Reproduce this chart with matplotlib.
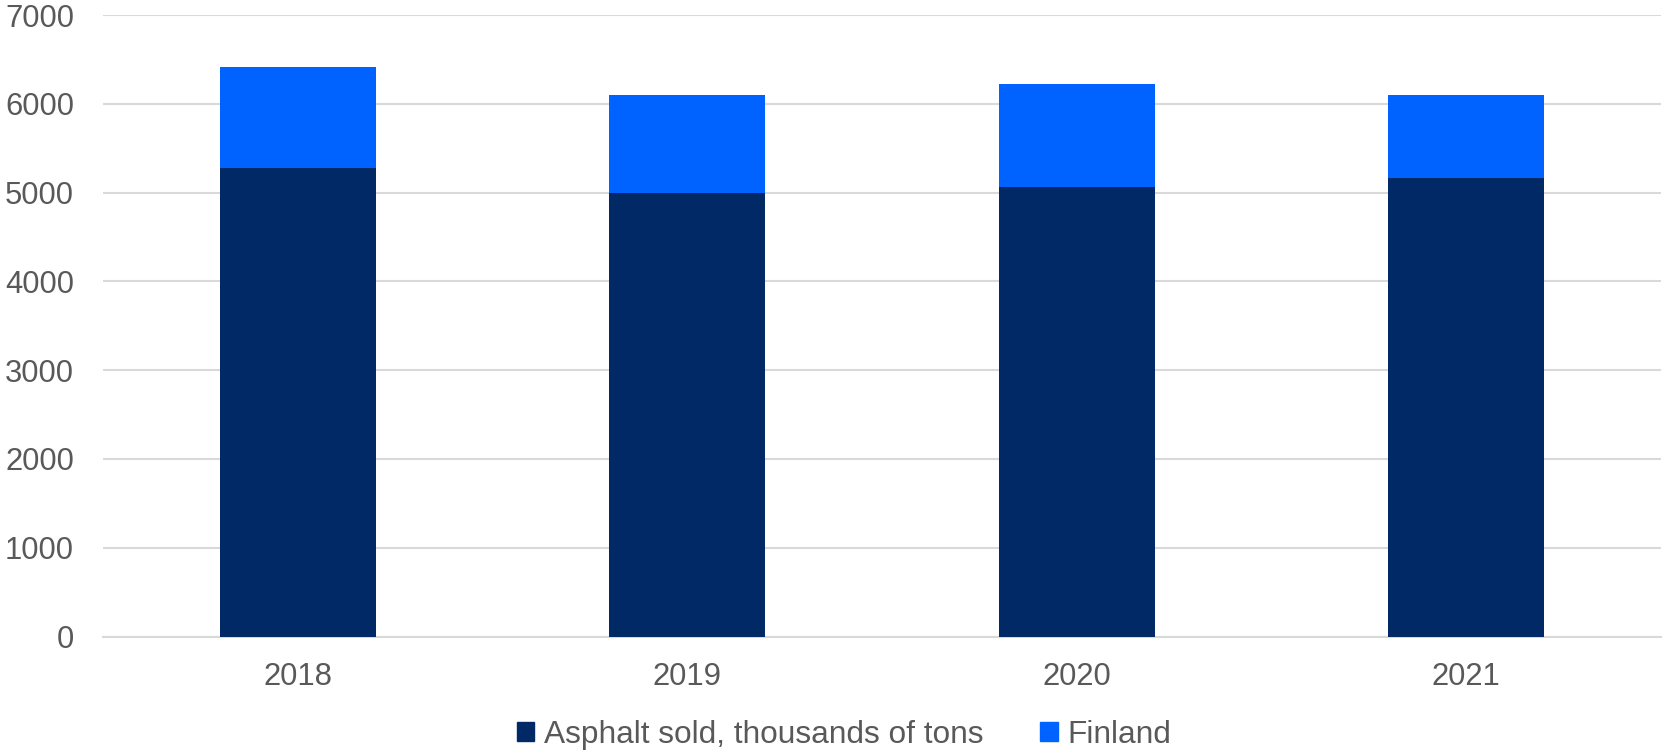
import matplotlib
matplotlib.use("Agg")
import matplotlib.pyplot as plt
import numpy as np
from matplotlib.patches import Patch

years = ["2018", "2019", "2020", "2021"]
asphalt_sold = [5280, 5000, 5065, 5170]
finland = [1130, 1100, 1155, 930]

DARK = "#002966"
BLUE = "#0063FF"
GRID = "#D9D9D9"
TEXT = "#595959"

plt.rcParams["font.family"] = ["Liberation Sans", "DejaVu Sans"]

fig = plt.figure(figsize=(16.65, 7.53), dpi=100)
ax = fig.add_axes([0.0619, 0.1547, 0.9357, 0.8253])

x = np.arange(len(years))
ax.bar(x, asphalt_sold, width=0.4, color=DARK, zorder=3)
ax.bar(x, finland, width=0.4, bottom=asphalt_sold, color=BLUE, zorder=3)

ax.set_xlim(-0.5, len(years) - 0.5)
ax.set_ylim(0, 7000)
ax.set_yticks(range(0, 7001, 1000))
ax.set_xticks(x)
ax.set_xticklabels(years)
ax.yaxis.grid(True, color=GRID, linewidth=1.5, zorder=0)
ax.set_axisbelow(True)
for side in ("top", "right", "left"):
    ax.spines[side].set_visible(False)
ax.spines["bottom"].set_color(GRID)
ax.spines["bottom"].set_linewidth(1.5)
ax.tick_params(axis="y", length=0, pad=21, labelsize=22.3, labelcolor=TEXT)
ax.tick_params(axis="x", length=0, pad=18, labelsize=22.3, labelcolor=TEXT)

handles = [Patch(color=DARK, label="Asphalt sold, thousands of tons"),
           Patch(color=BLUE, label="Finland")]
fig.legend(handles=handles, loc="center", bbox_to_anchor=(844 / 1665, 1 - 735 / 753),
           ncol=2, frameon=False, fontsize=22.8, labelcolor=TEXT,
           handlelength=0.55, handleheight=0.55, handletextpad=0.3, columnspacing=1.8,
           borderpad=0.0)

fig.savefig("out.png", dpi=100)
